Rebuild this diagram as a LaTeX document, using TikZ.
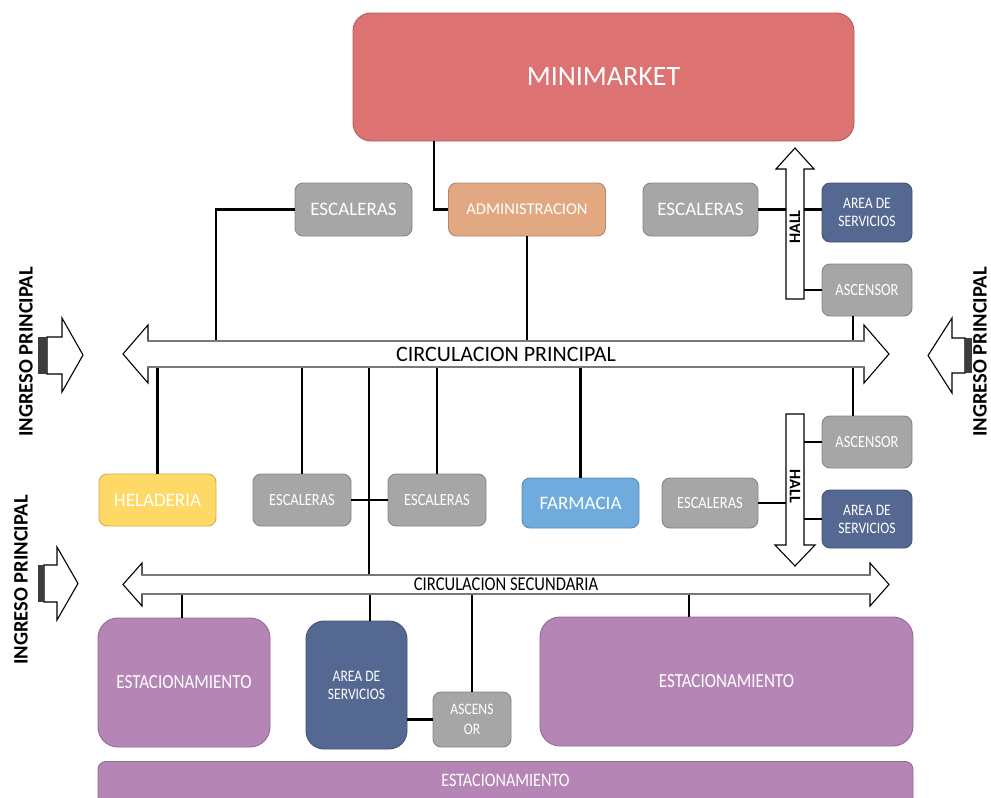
\documentclass[tikz,border=0pt]{standalone}
\usepackage{fontspec}
\setmainfont{Carlito}
\newfontfamily\narrow{Carlito}[FakeStretch=0.85]
\usetikzlibrary{calc}

\definecolor{mmred}{RGB}{220,114,114}
\definecolor{gbox}{RGB}{166,166,166}
\definecolor{admc}{RGB}{226,168,130}
\definecolor{blu}{RGB}{84,104,146}
\definecolor{yel}{RGB}{255,217,102}
\definecolor{farc}{RGB}{111,172,221}
\definecolor{pur}{RGB}{181,133,181}
\definecolor{edgegray}{RGB}{120,120,120}
\definecolor{bardark}{RGB}{60,60,60}

\newcommand\fsz[1]{\fontsize{#1}{#1}\selectfont}

\tikzset{
  box/.style={rounded corners=8pt, draw=#1!80!black, line width=0.9pt,
    fill=#1, text=white, inner sep=0pt, align=center},
  link/.style={line width=2.6pt, black},
  arrowshape/.style={draw=black, line width=1.1pt, fill=white, line join=miter},
  shaftedge/.style={draw=edgegray, line width=2.6pt},
  holder/.style={inner sep=0pt, draw=none},
  ingtext/.style={inner sep=0pt, font=\bfseries\fsz{20.5}, text=black},
}

\begin{document}
\begin{tikzpicture}[x=1pt,y=-1pt]
\useasboundingbox (0,0) rectangle (991,798);

% ---------- rooms ----------
\node[box=mmred, rounded corners=18pt, minimum width=501pt, minimum height=128pt, font=\fsz{28}] (mm) at (603.5,77) {MINIMARKET};
\node[box=gbox, minimum width=117pt, minimum height=53pt, font=\fsz{19}] (escA) at (353.5,209.5) {ESCALERAS};
\node[box=admc, minimum width=157pt, minimum height=53pt, font=\fsz{16.5}] (adm) at (527,209.5) {ADMINISTRACION};
\node[box=gbox, minimum width=115pt, minimum height=53pt, font=\fsz{19}] (escB) at (700.5,209.5) {ESCALERAS};
\node[box=blu, minimum width=90pt, minimum height=59pt, font=\narrow\fontsize{16}{18}\selectfont] (srvA) at (867,212.5) {AREA DE\\SERVICIOS};
\node[box=gbox, minimum width=90pt, minimum height=52pt, font=\narrow\fsz{17}] (ascA) at (867,290) {ASCENSOR};

\node[box=yel, minimum width=117pt, minimum height=52pt, font=\fsz{19}] (hel) at (157.5,500) {HELADERIA};
\node[box=gbox, minimum width=98pt, minimum height=52pt, font=\narrow\fsz{17}] (escC) at (302,500) {ESCALERAS};
\node[box=gbox, minimum width=98pt, minimum height=52pt, font=\narrow\fsz{17}] (escD) at (437,500) {ESCALERAS};
\node[box=farc, minimum width=117pt, minimum height=50pt, font=\fsz{19}] (far) at (580.5,503) {FARMACIA};
\node[box=gbox, minimum width=96pt, minimum height=50pt, font=\narrow\fsz{17}] (escE) at (710,503) {ESCALERAS};
\node[box=gbox, minimum width=90pt, minimum height=52pt, font=\narrow\fsz{17}] (ascB) at (867,442) {ASCENSOR};
\node[box=blu, minimum width=90pt, minimum height=58pt, font=\narrow\fontsize{16}{18}\selectfont] (srvB) at (867,519) {AREA DE\\SERVICIOS};

\node[box=pur, rounded corners=20pt, minimum width=172pt, minimum height=129pt, font=\narrow\fsz{20}] (est1) at (184,682.5) {ESTACIONAMIENTO};
\node[box=blu, rounded corners=18pt, minimum width=101pt, minimum height=128pt, font=\narrow\fontsize{16}{18}\selectfont] (srvC) at (356.5,685) {AREA DE\\SERVICIOS};
\node[box=gbox, minimum width=78pt, minimum height=55pt, font=\narrow\fontsize{16}{20}\selectfont] (ascC) at (472,719.5) {ASCENS\\OR};
\node[box=pur, rounded corners=20pt, minimum width=373pt, minimum height=129pt, font=\narrow\fsz{20}] (est2) at (726.5,681.5) {ESTACIONAMIENTO};
\node[box=pur, rounded corners=8pt, anchor=north, minimum width=815pt, minimum height=60pt,
      text height=12pt, text depth=21pt, font=\narrow\fsz{19}] (est3) at (505.5,761) {ESTACIONAMIENTO};

% ---------- circulation shafts (text holders) ----------
\node[holder, minimum width=716pt, minimum height=26pt] (cp) at (506,354) {};
\node[holder, minimum width=728pt, minimum height=19pt] (cs) at (506,584.5) {};
\node[holder, minimum width=18pt, minimum height=130pt] (hallA) at (795,234) {};
\node[holder, minimum width=18pt, minimum height=131pt] (hallB) at (795,479.5) {};

% ---------- connectors ----------
\coordinate (kA) at (216,0);
\coordinate (kB) at (369,0);
\coordinate (kC) at (370,0);
\coordinate (kD) at (689,0);

\draw[link] ([xshift=-169.5pt]mm.south) |- (adm.west);
\draw[link] (escA.west) -| (kA |- cp.north);
\draw[link] (adm.south) -- (adm.south |- cp.north);
\draw[link] (escB.east) -- (escB.east -| srvA.west);
\draw[link] (hallA.east |- ascA.west) -- (ascA.west);
\draw[link] ([xshift=-14pt]ascA.south) -- ([xshift=-14pt]ascA.south |- cp.north);

\draw[link] (hel.north) -- (hel.north |- cp.south);
\draw[link] (escC.north) -- (escC.north |- cp.south);
\draw[link] (escD.north) -- (escD.north |- cp.south);
\draw[link] (far.north) -- (far.north |- cp.south);
\draw[link] (kB |- cp.south) -- (kB |- cs.north);
\draw[link] (escC.east) -- (escD.west);
\draw[link] ([xshift=-14pt]ascB.north) -- ([xshift=-14pt]ascB.north |- cp.south);
\draw[link] (escE.east) -- (escE.east -| hallB.west);
\draw[link] (hallB.east |- ascB.west) -- (ascB.west);
\draw[link] (hallB.east |- srvB.west) -- (srvB.west);

\draw[link] ([xshift=-2pt]est1.north) -- ([xshift=-2pt]est1.north |- cs.south);
\draw[link] (kC |- cs.south) -- (kC |- srvC.north);
\draw[link] (ascC.north) -- (ascC.north |- cs.south);
\draw[link] (kD |- cs.south) -- (kD |- est2.north);
\draw[link] (ascC.west) -- (ascC.west -| srvC.east);

% ---------- circulation arrows ----------
\draw[arrowshape] (148,341) -- (864,341) -- (864,325) -- (889,354) -- (864,383) -- (864,367)
  -- (148,367) -- (148,383) -- (123,354) -- (148,325) -- cycle;
\draw[shaftedge] (148,341) -- (864,341);
\draw[shaftedge] (148,367) -- (864,367);
\node[inner sep=0pt, font=\fsz{22}] at (cp) {CIRCULACION PRINCIPAL};

\draw[arrowshape] (142,575) -- (870,575) -- (870,563) -- (889,584.5) -- (870,606) -- (870,594)
  -- (142,594) -- (142,606) -- (123,584.5) -- (142,563) -- cycle;
\draw[shaftedge] (142,575) -- (870,575);
\draw[shaftedge] (142,594) -- (870,594);
\node[inner sep=0pt, font=\narrow\fsz{19.5}] at (cs) {CIRCULACION SECUNDARIA};

% ---------- hall arrows ----------
\draw[arrowshape] (786,299) -- (786,169) -- (776,169) -- (795,148) -- (814,169) -- (804,169) -- (804,299) -- cycle;
\node[inner sep=0pt, font=\bfseries\fsz{16}] at ($(hallA)+(0,-7)$) {\rotatebox{90}{HALL}};
\draw[arrowshape] (786,414) -- (804,414) -- (804,545) -- (815,545) -- (795,566) -- (775,545) -- (786,545) -- cycle;
\node[inner sep=0pt, font=\bfseries\fsz{16}] at ($(hallB)+(0,7)$) {\rotatebox{-90}{HALL}};

% ---------- entrance arrows ----------
\draw[arrowshape] (47,337) -- (62,337) -- (62,318) -- (83,355) -- (62,392) -- (62,374) -- (47,374) -- cycle;
\fill[bardark] (38,337) rectangle (47,374);
\node[ingtext] (ingA) at (26,352) {\rotatebox{90}{INGRESO PRINCIPAL}};

\draw[arrowshape] (44,565) -- (57,565) -- (57,547) -- (78,583.5) -- (57,620) -- (57,602) -- (44,602) -- cycle;
\fill[bardark] (38,565) rectangle (44,602);
\node[ingtext] (ingB) at (21,580) {\rotatebox{90}{INGRESO PRINCIPAL}};

\draw[arrowshape] (965,338) -- (952,338) -- (952,318) -- (928,355.5) -- (952,393) -- (952,373) -- (965,373) -- cycle;
\fill[bardark] (965,338) rectangle (972,373);
\node[ingtext] (ingC) at (980,352) {\rotatebox{90}{INGRESO PRINCIPAL}};

\end{tikzpicture}
\end{document}
